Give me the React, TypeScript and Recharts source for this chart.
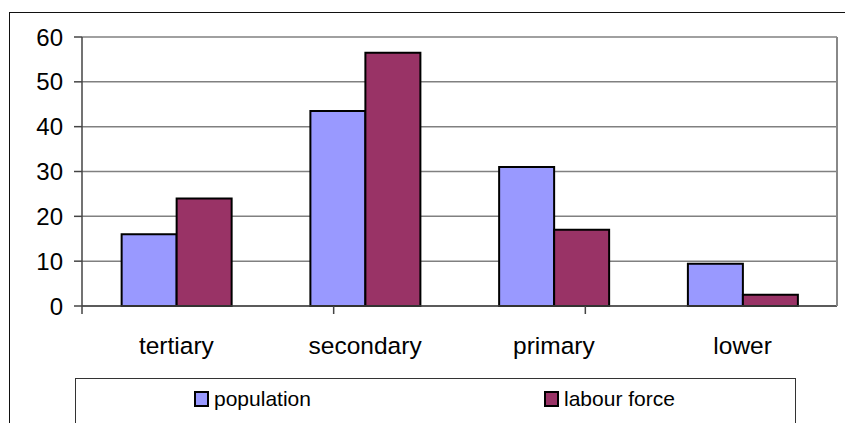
import { BarChart, Bar, XAxis, YAxis, CartesianGrid } from 'recharts'

const categories = ['tertiary', 'secondary', 'primary', 'lower']
const population = [16, 43.5, 31, 9.4]
const labourForce = [24, 56.5, 17, 2.5]
const yTicks = [0, 10, 20, 30, 40, 50, 60]
const edgeTicks = [0, 1, 2, 3, 4]

const POP_COLOR = '#9999ff'
const LF_COLOR = '#993366'
const FONT = '"Liberation Sans", Arial, sans-serif'

const data = categories.map((name, i) => ({
    name,
    population: population[i],
    labourForce: labourForce[i],
}))

function LegendItem({ color, label, left }: { color: string; label: string; left: number }) {
    return (
        <div style={{ position: 'absolute', left, top: 8, display: 'flex', alignItems: 'center' }}>
            <div style={{ width: 11, height: 12, background: color, border: '2px solid #000' }} />
            <span style={{ marginLeft: 5, fontSize: 21, lineHeight: '24px' }}>{label}</span>
        </div>
    )
}

export default function App() {
    return (
        <div style={{ position: 'absolute', left: 0, top: 0, width: 845, height: 423, overflow: 'hidden', background: '#fff', fontFamily: FONT }}>
            {/* outer chart frame */}
            <div style={{ position: 'absolute', left: 9, top: 12, width: 900, height: 500, border: '1.5px solid #111' }} />

            <BarChart
                width={845}
                height={423}
                data={data}
                margin={{ top: 37, right: 7, bottom: 0, left: 0 }}
                barCategoryGap="21%"
                barGap={0}
                style={{ position: 'absolute', left: 0, top: 0 }}
            >
                <CartesianGrid vertical={false} stroke="#808080" strokeWidth={1.5} />
                {/* axis line with tick marks on the category boundaries */}
                <XAxis
                    type="number"
                    domain={[0, 4]}
                    allowDataOverflow
                    ticks={edgeTicks}
                    tick={() => <g />}
                    tickSize={8}
                    height={1}
                    stroke="#444"
                    strokeWidth={1.5}
                />
                <XAxis
                    xAxisId="cat"
                    dataKey="name"
                    axisLine={false}
                    tickLine={false}
                    tickSize={0}
                    tickMargin={30}
                    height={116}
                    tick={{ fontSize: 24.5, fill: '#000', fontFamily: FONT }}
                />
                <YAxis
                    domain={[0, 60]}
                    ticks={yTicks}
                    width={82}
                    tickSize={8}
                    tickMargin={11}
                    stroke="#444"
                    strokeWidth={1.5}
                    tick={{ fontSize: 24, fill: '#000', fontFamily: FONT }}
                />
                {/* right edge of the plot area */}
                <YAxis
                    yAxisId="edge"
                    orientation="right"
                    domain={[0, 60]}
                    allowDataOverflow
                    width={1}
                    tick={() => <g />}
                    tickLine={false}
                    stroke="#888"
                    strokeWidth={2}
                />
                <Bar xAxisId="cat" dataKey="population" fill={POP_COLOR} stroke="#000" strokeWidth={2} isAnimationActive={false} />
                <Bar xAxisId="cat" dataKey="labourForce" fill={LF_COLOR} stroke="#000" strokeWidth={2} isAnimationActive={false} />
            </BarChart>

            {/* legend box */}
            <div style={{ position: 'absolute', left: 75, top: 378, width: 719, height: 80, border: '1px solid #333', background: '#fff' }}>
                <LegendItem color={POP_COLOR} label="population" left={118} />
                <LegendItem color={LF_COLOR} label="labour force" left={468} />
            </div>
        </div>
    )
}
